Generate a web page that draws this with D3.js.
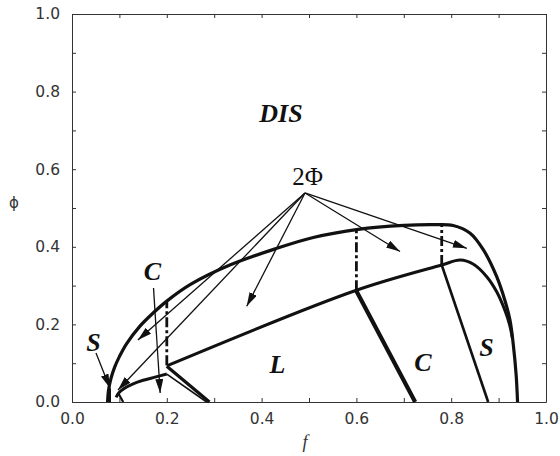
<!DOCTYPE html>
<html><head><meta charset="utf-8">
<script src="https://cdn.jsdelivr.net/npm/d3@7"></script>
<style>
html,body{margin:0;padding:0;background:#fff;}
svg{display:block;}
</style></head>
<body>
<svg id="chart" width="560" height="456"></svg>
<script>
// ---- data (f, phi) ----
const majorTicks = [0.0, 0.2, 0.4, 0.6, 0.8, 1.0];
const minorTicks = [0.1, 0.3, 0.5, 0.7, 0.9];
const tickLabels = ["0.0", "0.2", "0.4", "0.6", "0.8", "1.0"];

// outer 2Φ / DIS boundary
const outerCurve = [
  [0.075,0.0],[0.077,0.03],[0.082,0.06],[0.09,0.09],[0.1,0.117],[0.115,0.150],
  [0.143,0.195],[0.17,0.228],[0.2,0.260],[0.25,0.303],[0.333,0.353],[0.432,0.396],
  [0.509,0.424],[0.604,0.445],[0.70,0.455],[0.76,0.457],[0.804,0.455],[0.84,0.435],
  [0.868,0.392],[0.896,0.323],[0.913,0.263],[0.924,0.211],[0.931,0.148],[0.937,0.07],[0.94,0.0]
];
// inner 2Φ boundary (upper edge of L / C / S)
const innerCurve = [
  [0.2,0.093],[0.6,0.288],[0.78,0.353],[0.819,0.366],[0.847,0.355],[0.875,0.323],
  [0.896,0.284],[0.913,0.237],[0.923,0.200],[0.929,0.165]
];
// lower C boundary (left)
const lowerCCurve = [
  [0.093,0.012],[0.099,0.024],[0.11,0.035],[0.129,0.047],[0.15,0.056],[0.175,0.064],[0.2,0.072]
];
// straight phase boundaries to the f axis
const boundaryLines = [
  {name:"LC-left-a", pts:[[0.2,0.092],[0.29,0.0]], w:3.2},
  {name:"LC-left-b", pts:[[0.2,0.072],[0.284,0.0]], w:1.6},
  {name:"LC-right",  pts:[[0.6,0.286],[0.724,0.0]], w:4.2},
  {name:"CS-right",  pts:[[0.78,0.353],[0.878,0.0]], w:2.6},
  {name:"SC-left",   pts:[[0.08,0.0],[0.08,0.035]], w:2.2},
  {name:"SC-left2",  pts:[[0.098,0.022],[0.108,0.0]], w:2.2}
];
// dash-dot tie lines
const tieLines = [
  [[0.2,0.095],[0.2,0.260]],
  [[0.6,0.288],[0.6,0.445]],
  [[0.78,0.353],[0.78,0.457]]
];
// annotation arrows (from -> to)
const arrows = [
  [[0.4916,0.5387],[0.692,0.388]],
  [[0.4916,0.5387],[0.833,0.396]],
  [[0.4916,0.5387],[0.3686,0.2466]],
  [[0.4916,0.5387],[0.139,0.160]],
  [[0.4916,0.5387],[0.097,0.031]],
  [[0.172,0.294],[0.186,0.023]],
  [[0.0506,0.126],[0.080,0.036]]
];
// region labels
const labels = [
  {t:"DIS", f:0.441, p:0.722, bold:true},
  {t:"2\u03A6", f:0.497, p:0.559, bold:false},
  {t:"L", f:0.4335, p:0.0747, bold:true},
  {t:"C", f:0.7405, p:0.080, bold:true},
  {t:"S", f:0.8745, p:0.1186, bold:true},
  {t:"C", f:0.1698, p:0.3144, bold:true},
  {t:"S", f:0.0454, p:0.131, bold:true}
];

// ---- drawing ----
const svg = d3.select("#chart");
const x = d3.scaleLinear().domain([0,1]).range([72,546]);
const y = d3.scaleLinear().domain([0,1]).range([402,14]);
const axisColor = "#333";

svg.append("rect").attr("width",560).attr("height",456).attr("fill","#fff");

const defs = svg.append("defs");
defs.append("marker").attr("id","ah")
  .attr("viewBox","0 0 14 8").attr("refX",14).attr("refY",4)
  .attr("markerWidth",14).attr("markerHeight",8)
  .attr("markerUnits","userSpaceOnUse").attr("orient","auto")
  .append("path").attr("d","M0,0 L14,4 L0,8 Z").attr("fill","#111");

// axes
function styleAxis(g){
  g.selectAll("path.domain").attr("stroke",axisColor).attr("stroke-width",1);
  g.selectAll(".tick line").attr("stroke",axisColor);
  g.selectAll(".tick text").attr("fill","#333")
    .style("font-family","'DejaVu Sans', sans-serif").style("font-size","15.5px");
}
const allTicks = majorTicks.concat(minorTicks);
const fmt = v => { const i = majorTicks.indexOf(v); return i>=0 ? tickLabels[i] : ""; };

svg.append("g").attr("transform",`translate(0,${y(0)})`)
  .call(d3.axisBottom(x).tickValues(allTicks).tickFormat(fmt).tickSizeInner(-4).tickSizeOuter(0).tickPadding(11))
  .call(styleAxis);
svg.append("g").attr("transform",`translate(${x(0)},0)`)
  .call(d3.axisLeft(y).tickValues(allTicks).tickFormat(fmt).tickSizeInner(-4).tickSizeOuter(0).tickPadding(12))
  .call(styleAxis);
svg.append("g").attr("transform",`translate(0,${y(1)})`)
  .call(d3.axisTop(x).tickValues(allTicks).tickFormat("").tickSizeInner(-4).tickSizeOuter(0))
  .call(styleAxis);
svg.append("g").attr("transform",`translate(${x(1)},0)`)
  .call(d3.axisRight(y).tickValues(allTicks).tickFormat("").tickSizeInner(-4).tickSizeOuter(0))
  .call(styleAxis);

// axis titles
svg.append("text").attr("x",14).attr("y",208).attr("text-anchor","middle")
  .style("font-family","'DejaVu Sans', sans-serif").style("font-size","15px").attr("fill","#333")
  .text("\u03D5");
svg.append("text").attr("x",305).attr("y",448).attr("text-anchor","middle")
  .style("font-family","'Liberation Serif', serif").style("font-style","italic").style("font-size","18px").attr("fill","#333")
  .text("f");

const line = d3.line().x(d=>x(d[0])).y(d=>y(d[1]));
const smooth = d3.line().x(d=>x(d[0])).y(d=>y(d[1])).curve(d3.curveCatmullRom.alpha(0.5));

const plot = svg.append("g");

// tie lines
plot.selectAll("path.tie").data(tieLines).join("path").attr("class","tie")
  .attr("d",line).attr("fill","none").attr("stroke","#111")
  .attr("stroke-width",2.8).attr("stroke-dasharray","10,3,3,3");

// curves
plot.append("path").attr("d",smooth(outerCurve)).attr("fill","none")
  .attr("stroke","#111").attr("stroke-width",3.2).attr("stroke-linejoin","round");
plot.append("path").attr("d",smooth(innerCurve)).attr("fill","none")
  .attr("stroke","#111").attr("stroke-width",3).attr("stroke-linejoin","round");
plot.append("path").attr("d",smooth(lowerCCurve)).attr("fill","none")
  .attr("stroke","#111").attr("stroke-width",3);

plot.selectAll("path.bd").data(boundaryLines).join("path").attr("class","bd")
  .attr("d",d=>line(d.pts)).attr("fill","none").attr("stroke","#111")
  .attr("stroke-width",d=>d.w);

// arrows
plot.selectAll("path.arr").data(arrows).join("path").attr("class","arr")
  .attr("d",line).attr("fill","none").attr("stroke","#111")
  .attr("stroke-width",1.3).attr("marker-end","url(#ah)");

// labels
plot.selectAll("text.lab").data(labels).join("text").attr("class","lab")
  .attr("x",d=>x(d.f)).attr("y",d=>y(d.p)).attr("text-anchor","middle")
  .style("font-family","'Liberation Serif', 'Times New Roman', serif")
  .style("font-weight",d=>d.bold?"bold":"normal")
  .style("font-style",d=>d.bold?"italic":"normal")
  .style("font-size",d=>d.bold?"26px":"25px")
  .attr("fill","#111")
  .text(d=>d.t);
</script>
</body></html>
